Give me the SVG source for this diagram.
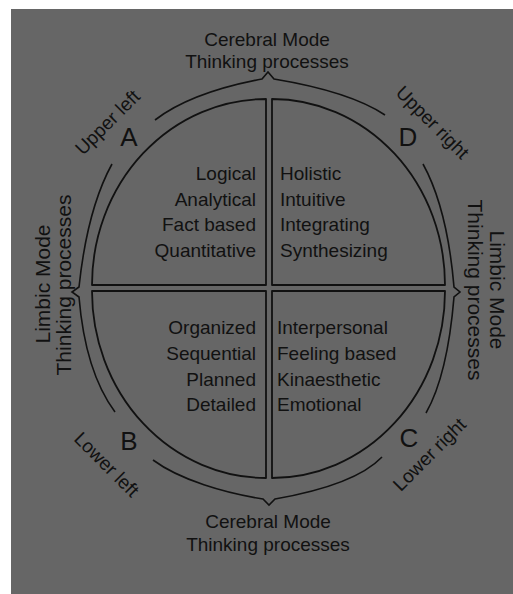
<svg xmlns="http://www.w3.org/2000/svg" width="513" height="594" viewBox="0 0 513 594">
<style>
.bg{fill:#666}
.q{fill:none;stroke:#111;stroke-width:1.8;stroke-linejoin:round}
.br{fill:none;stroke:#111;stroke-width:1.6;stroke-linejoin:miter}
text{font-family:"Liberation Sans",Arial,sans-serif;fill:#111;font-size:19px}
.r{text-anchor:end}
.m{text-anchor:middle}
.big{font-size:26px;text-anchor:middle}
.side{font-size:21px;text-anchor:middle}
</style>
<rect x="0" y="0" width="513" height="594" fill="#fff"/>
<rect class="bg" x="11" y="9" width="502" height="585"/>
<g id="quadrant-A">
<path class="q" d="M266,285 L266,99 A174,186 0 0 0 92,285 Z"/>
<text class="r" x="256" y="180">Logical</text>
<text class="r" x="256" y="205.5">Analytical</text>
<text class="r" x="256" y="231">Fact based</text>
<text class="r" x="256" y="256.5">Quantitative</text>
<text class="big" x="129" y="146">A</text>
<text class="m" transform="translate(112,127) rotate(-45)">Upper left</text>
</g>
<g id="quadrant-D">
<path class="q" d="M272,285 L445,285 A173,186 0 0 0 272,99 Z"/>
<text x="280" y="180">Holistic</text>
<text x="280" y="205.5">Intuitive</text>
<text x="280" y="231">Integrating</text>
<text x="280" y="256.5">Synthesizing</text>
<text class="big" x="408" y="146">D</text>
<text class="m" transform="translate(428,127) rotate(45)">Upper right</text>
</g>
<g id="quadrant-B">
<path class="q" d="M266,291 L92,291 A174,187 0 0 0 266,478 Z"/>
<text class="r" x="256" y="334">Organized</text>
<text class="r" x="256" y="360">Sequential</text>
<text class="r" x="256" y="386">Planned</text>
<text class="r" x="256" y="411">Detailed</text>
<text class="big" x="129" y="450">B</text>
<text class="m" transform="translate(102,469) rotate(45)">Lower left</text>
</g>
<g id="quadrant-C">
<path class="q" d="M272,291 L272,478 A173,187 0 0 0 445,291 Z"/>
<text x="277" y="334">Interpersonal</text>
<text x="277" y="360">Feeling based</text>
<text x="277" y="386">Kinaesthetic</text>
<text x="277" y="411">Emotional</text>
<text class="big" x="409" y="447">C</text>
<text class="m" transform="translate(434,459) rotate(-45)">Lower right</text>
</g>
<g id="connectors">
<path class="br" d="M155,120 C185,97 225,86 262,79 L268,72 L274,79 C310,85 355,95 385,115"/>
<path class="br" d="M112,164 C95,195 84,240 79,287 L72,292 L79,297 C83,345 95,385 115,412"/>
<path class="br" d="M423,164 C440,195 450,240 454,287 L460,292 L454,297 C450,345 442,385 426,413"/>
<path class="br" d="M153,460 C180,480 225,493 263,499 L269,505 L275,499 C315,492 360,480 382,457"/>
</g>
<g id="label-top">
<text class="m" x="267" y="46">Cerebral Mode</text>
<text class="m" x="267" y="68">Thinking processes</text>
</g>
<g id="label-bottom">
<text class="m" x="268" y="528">Cerebral Mode</text>
<text class="m" x="268" y="551">Thinking processes</text>
</g>
<g id="label-left">
<text class="side" transform="translate(50,284) rotate(-90)">Limbic Mode</text>
<text class="side" transform="translate(71,285) rotate(-90)">Thinking processes</text>
</g>
<g id="label-right">
<text class="side" transform="translate(490,290) rotate(90)">Limbic Mode</text>
<text class="side" transform="translate(468,290) rotate(90)">Thinking processes</text>
</g>
</svg>
